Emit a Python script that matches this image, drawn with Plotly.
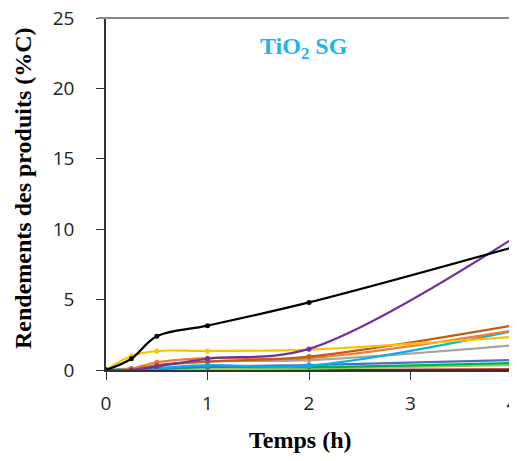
import plotly.graph_objects as go

temps = [0, 0.25, 0.5, 1, 2, 4]

s_black = [0, 0.8, 2.4, 3.15, 4.8, 8.7]
s_purple = [0, 0.0, 0.25, 0.8, 1.5, 9.3]
s_yellow = [0, 1.0, 1.35, 1.35, 1.45, 2.35]
s_orange = [0, 0.1, 0.55, 0.85, 0.85, 2.8]
s_brown = [0, 0.0, 0.35, 0.6, 0.95, 3.15]
s_lightblue = [0, 0.1, 0.15, 0.35, 0.3, 2.75]
s_gray = [0, 0.0, 0.3, 0.6, 0.7, 1.75]
s_blue = [0, 0.0, 0.1, 0.25, 0.35, 0.7]
s_green = [0, 0.0, 0.05, 0.2, 0.2, 0.5]
s_lightgreen = [0, 0.0, 0.0, 0.05, 0.1, 0.35]
s_red = [0, 0.0, 0.0, 0.0, 0.0, 0.05]

series = [
    ("red", s_red, "#C00000"),
    ("lightgreen", s_lightgreen, "#92D050"),
    ("green", s_green, "#00B050"),
    ("blue", s_blue, "#4472C4"),
    ("gray", s_gray, "#A5A5A5"),
    ("lightblue", s_lightblue, "#00B0F0"),
    ("orange", s_orange, "#ED7D31"),
    ("brown", s_brown, "#C55A11"),
    ("yellow", s_yellow, "#FFC000"),
    ("purple", s_purple, "#7030A0"),
    ("black", s_black, "#000000"),
]

y_ticks = [0, 5, 10, 15, 20, 25]
x_ticks = [0, 1, 2, 3, 4]

fig = go.Figure()
for name, ys, col in series:
    fig.add_trace(go.Scatter(
        x=temps, y=ys, mode="lines+markers", name=name,
        line=dict(color=col, width=2.2, shape="spline", smoothing=1),
        marker=dict(color=col, size=5),
        showlegend=False,
    ))

tick_font = dict(family="Open Sans, Liberation Sans, sans-serif", size=19, color="#222")
title_font = dict(family="Liberation Serif, Times New Roman, serif", size=24, color="#000")

W, H = 509, 453
ML, MR, MT, MB = 98, 5, 10, 91
pw = W - ML - MR
ph = H - MT - MB

def px_to_paper(px, py):
    # px, py in page pixels (page has 8px body margin)
    fx, fy = px - 8, py - 8
    return (fx - ML) / pw, (H - MB - fy) / ph

tx, ty = px_to_paper(300, 440)
yx, yy = px_to_paper(23, 188)

fig.update_layout(
    width=W, height=H,
    margin=dict(l=ML, r=MR, t=MT, b=MB),
    paper_bgcolor="white", plot_bgcolor="white",
    xaxis=dict(
        range=[0, 4], tickvals=x_ticks, showgrid=False, zeroline=False,
        showline=True, linecolor="#333", linewidth=1.5, automargin=False,
        ticks="outside", ticklen=8, tickcolor="#333", ticklabelstandoff=7,
        ticklabeloverflow="allow", tickfont=tick_font,
    ),
    yaxis=dict(
        range=[0, 25], tickvals=y_ticks, showgrid=False, zeroline=False,
        showline=True, linecolor="#333", linewidth=1.5, mirror=True, automargin=False,
        ticks="outside", ticklen=8, tickcolor="#333", ticklabelstandoff=18,
        ticklabeloverflow="allow", tickfont=tick_font,
    ),
    shapes=[dict(type="line", xref="paper", yref="paper", x0=-0.02, x1=1, y0=1, y1=1,
                 line=dict(color="#888", width=2))],
    annotations=[
        dict(text="<b>TiO<sub>2</sub> SG</b>", x=1.95, y=22.9, xref="x", yref="y",
             showarrow=False, xanchor="center", yanchor="middle",
             font=dict(family="Liberation Serif, Times New Roman, serif", size=24, color="#1AB6EE")),
        dict(text="<b>Temps (h)</b>", x=tx, y=ty, xref="paper", yref="paper",
             xanchor="center", yanchor="middle",
             showarrow=False, font=title_font),
        dict(text="<b>Rendements des produits (%C)</b>", x=yx, y=yy, xref="paper", yref="paper",
             xanchor="center", yanchor="middle",
             textangle=-90, showarrow=False, font=title_font),
    ],
)

fig.write_html("out.html")
